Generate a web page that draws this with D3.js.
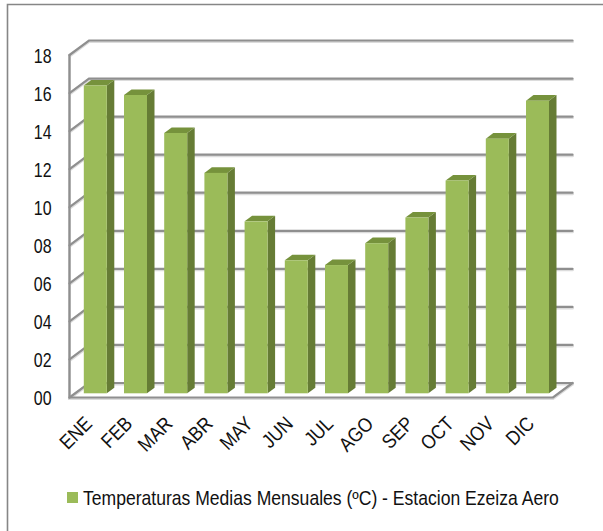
<!DOCTYPE html>
<html><head><meta charset="utf-8">
<script src="https://cdn.jsdelivr.net/npm/d3@7"></script>
<style>html,body{margin:0;padding:0;background:#fff}svg{display:block}text{font-family:"Liberation Sans",Arial,sans-serif;fill:#111}</style>
</head><body><div id="c"></div>
<script>
const months=["ENE","FEB","MAR","ABR","MAY","JUN","JUL","AGO","SEP","OCT","NOV","DIC"];
const temps=[16.2,15.7,13.7,11.6,9.05,7.0,6.75,7.9,9.25,11.2,13.4,15.4];
const yTicks=[0,2,4,6,8,10,12,14,16,18];
const legendLabel="Temperaturas Medias Mensuales (ºC) - Estacion Ezeiza Aero";

const W=603,H=531;
const svg=d3.select("#c").append("svg").attr("width",W).attr("height",H);
// frame: top and left only
svg.append("path").attr("d","M7.5,531V4.5H603").attr("fill","none").attr("stroke","#868686").attr("stroke-width",1.6);

const x0=69.5,x1=553,dx=19.5,dy=14.5;
const yFront=d3.scaleLinear().domain([0,18]).range([397.5,55]);
const yBar=d3.scaleLinear().domain([0,18]).range([393.3,51.3]);
const x=d3.scaleBand().domain(months).range([83.8,549]).paddingInner(0.428).paddingOuter(0);
const gridCol="#8f8f8f";
const grid=svg.append("g").attr("fill","none").attr("stroke-linecap","round");
// soft shadow then line
[[ "#dcdcdc",3,1],[gridCol,2.2,0]].forEach(([c,w,o])=>{
  const g=grid.append("g").attr("stroke",c).attr("stroke-width",w).attr("transform",`translate(0,${o})`);
  g.selectAll("path").data(yTicks).join("path")
   .attr("d",t=>`M${x0},${yFront(t)}L${x0+dx},${yFront(t)-dy}H${x1+dx}`);
  g.append("path").attr("d",`M${x0},${yFront(18)}V${yFront(0)}H${x1}L${x1+dx},${yFront(0)-dy}`);
});

const dep=7.5,rise=5.6;
const bars=svg.append("g").selectAll("g").data(months.map((m,i)=>({m,v:temps[i]}))).join("g");
const bw=x.bandwidth();
bars.append("path").attr("fill","#667c35")
  .attr("d",d=>{const a=x(d.m)+bw,t=yBar(d.v),b=yBar(0);return `M${a},${t}l${dep},${-rise}V${b-rise}L${a},${b}Z`;});
bars.append("path").attr("fill","#76923c")
  .attr("d",d=>{const a=x(d.m),t=yBar(d.v);return `M${a},${t}l${dep},${-rise}h${bw}l${-dep},${rise}Z`;});
bars.append("rect").attr("fill","#9bbb59")
  .attr("x",d=>x(d.m)).attr("width",bw).attr("y",d=>yBar(d.v)).attr("height",d=>yBar(0)-yBar(d.v));

// y labels
svg.append("g").selectAll("text").data(yTicks).join("text")
  .attr("text-anchor","end").attr("font-size",21)
  .attr("transform",t=>`translate(51.5,${yFront(t)+7.5}) scale(0.76,1)`)
  .text(t=>d3.format("02d")(t));

// x labels
svg.append("g").selectAll("text").data(months).join("text")
  .attr("text-anchor","end").attr("font-size",20)
  .attr("transform",m=>`translate(${x(m)+bw/2-2},${425}) rotate(-45) scale(0.88,1)`)
  .text(m=>m);

// legend
svg.append("rect").attr("x",67).attr("y",492).attr("width",11).attr("height",11).attr("fill","#9bbb59");
const leg=svg.append("text").attr("font-size",20).text(legendLabel);
const sx=476/leg.node().getComputedTextLength();
leg.attr("transform",`translate(83,504.5) scale(${sx},1)`);
</script></body></html>
